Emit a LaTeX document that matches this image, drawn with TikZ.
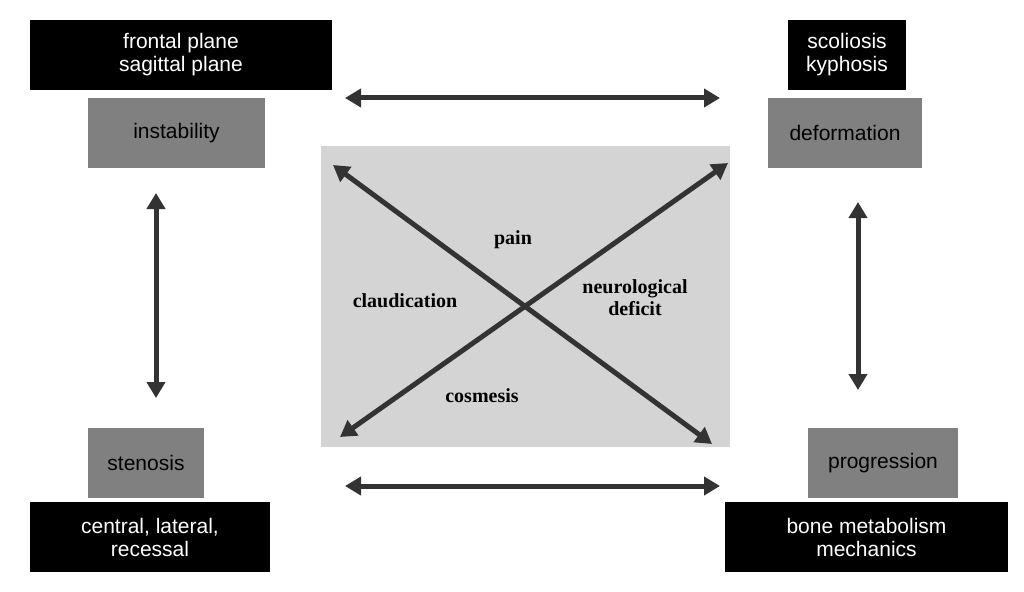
\documentclass[tikz,border=0pt]{standalone}
\usepackage{fontspec}
\setmainfont{Liberation Sans}
\newfontfamily\serifb{Liberation Serif}
\usetikzlibrary{arrows.meta}
\definecolor{dk}{HTML}{333333}
\definecolor{gb}{HTML}{808080}
\definecolor{lg}{HTML}{D4D4D4}
\begin{document}
\begin{tikzpicture}[x=1pt,y=-1pt,
  blk/.style={fill=black,text=white,align=center,font=\fontsize{21}{23}\selectfont,inner sep=0pt},
  gry/.style={fill=gb,text=black,align=center,font=\fontsize{21}{23}\selectfont,inner sep=0pt},
  lab/.style={font=\serifb\bfseries\fontsize{20}{22}\selectfont,align=center},
  arr/.style={draw=dk,line width=5pt,{Triangle[length=16pt,width=18pt]}-{Triangle[length=16pt,width=18pt]}}]
\useasboundingbox (0,0) rectangle (1024,591);
\fill[white] (0,0) rectangle (1024,591);
\node[blk,minimum width=302pt,minimum height=70pt] (fp) at (181,55) {frontal plane\\sagittal plane};
\node[gry,minimum width=177pt,minimum height=70pt] (ins) at (176.5,133) {instability};
\node[blk,minimum width=118pt,minimum height=70pt] (sk) at (847,55) {scoliosis\\kyphosis};
\node[gry,minimum width=154pt,minimum height=70pt] (def) at (845,133) {deformation};
\node[gry,minimum width=116pt,minimum height=70pt] (ste) at (146,463) {stenosis};
\node[blk,minimum width=240pt,minimum height=70pt] (clr) at (150,537) {central, lateral,\\recessal};
\node[gry,minimum width=150pt,minimum height=70pt] (pro) at (883,463) {progression};
\node[blk,minimum width=283pt,minimum height=70pt] (bm) at (866.5,537) {bone metabolism\\mechanics};
\node[fill=lg,minimum width=409pt,minimum height=301pt,inner sep=0pt] (ctr) at (525.5,296.5) {};
\coordinate (t1) at (345,98); \coordinate (t2) at (720,98);
\coordinate (b1) at (345,486); \coordinate (b2) at (720,486);
\coordinate (l1) at (156,193); \coordinate (l2) at (156,398);
\coordinate (r1) at (858,202); \coordinate (r2) at (858,390);
\coordinate (d1) at (333,165); \coordinate (d2) at (712,444);
\coordinate (e1) at (340,437); \coordinate (e2) at (728,163);
\draw[arr] (t1) -- (t2);
\draw[arr] (b1) -- (b2);
\draw[arr] (l1) -- (l2);
\draw[arr] (r1) -- (r2);
\draw[arr] (d1) -- (d2);
\draw[arr] (e1) -- (e2);
\node[lab] (pain) at (513,240) {pain};
\node[lab] (cl) at (405,301) {claudication};
\node[lab] (nd) at (635,298) {neurological\\deficit};
\node[lab] (cos) at (482,396) {cosmesis};
\end{tikzpicture}
\end{document}
